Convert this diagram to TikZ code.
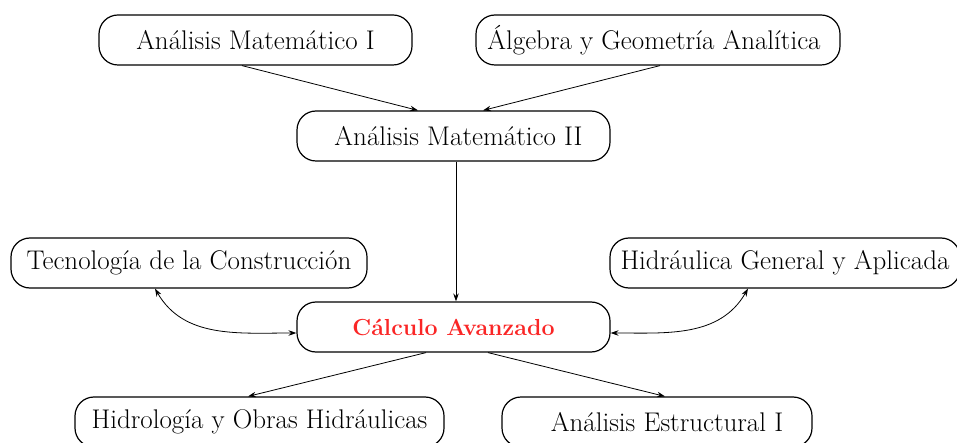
\documentclass[tikz,border=0pt]{standalone}
\usepackage{fontspec}
\usetikzlibrary{arrows.meta}
\definecolor{calcred}{RGB}{250,38,38}
\begin{document}
\begin{tikzpicture}[x=1pt,y=-1pt,
  course/.style={draw, line width=1.2pt, rounded corners=19pt, minimum height=50pt,
    inner sep=0pt, font=\fontsize{27}{32}\selectfont},
  link/.style={line width=0.8pt, -{Stealth[length=8pt,width=5.5pt]}},
  biglink/.style={line width=0.8pt, {Stealth[length=8pt,width=5.5pt]}-{Stealth[length=8pt,width=5.5pt]}}]
\useasboundingbox (0,0) rectangle (957,443);
\node[course, minimum width=313pt] (am1) at (255.5,40) {Análisis Matemático I};
\node[course, minimum width=364pt] (alg) at (658,40) {\hspace{-8pt}Álgebra y Geometría Analítica};
\node[course, minimum width=313pt] (am2) at (453.5,136) {\hspace{10pt}Análisis Matemático II};
\node[course, minimum width=356pt] (tec) at (189,263) {Tecnología de la Construcción};
\node[course, minimum width=313pt, text=calcred, font=\fontsize{23.2}{28}\selectfont\bfseries] (calc) at (453.5,327) {Cálculo Avanzado};
\node[course, minimum width=350pt] (hid) at (785,263) {Hidráulica General y Aplicada};
\node[course, minimum width=369pt] (hidro) at (259.5,422) {Hidrología y Obras Hidráulicas};
\node[course, minimum width=310pt] (ae) at (657,422) {\hspace{20pt}Análisis Estructural I};
\draw[link] ([xshift=-13.5pt]am1.south) -- ([xshift=-35.5pt]am2.north);
\draw[link] ([xshift=2pt]alg.south) -- ([xshift=29.5pt]am2.north);
\draw[link] ([xshift=2.5pt]am2.south) -- ([xshift=2.5pt]calc.north);
\draw[biglink] ([xshift=-34pt]tec.south) to[out=-60,in=180] ([yshift=-6pt]calc.west);
\draw[biglink] ([yshift=-6pt]calc.east) to[out=0,in=-120] ([xshift=-37pt]hid.south);
\draw[link] ([xshift=-27.5pt]calc.south) -- ([xshift=-11.5pt]hidro.north);
\draw[link] ([xshift=34.5pt]calc.south) -- ([xshift=8pt]ae.north);
\end{tikzpicture}
\end{document}
